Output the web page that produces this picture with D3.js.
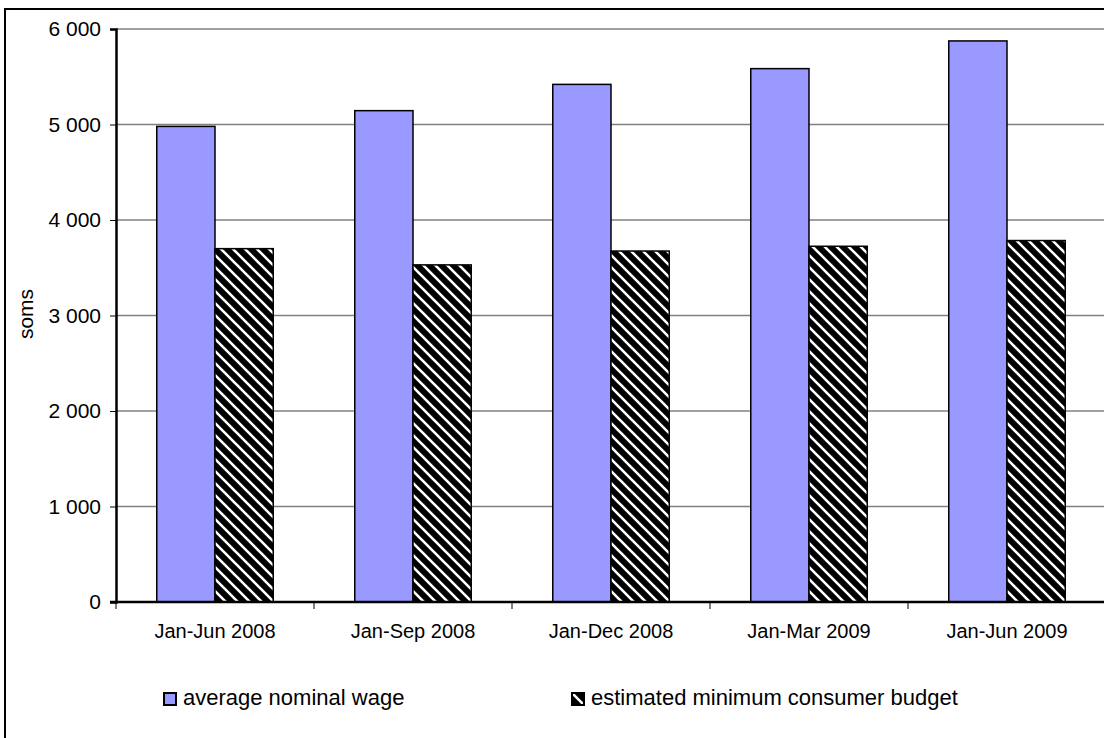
<!DOCTYPE html>
<html>
<head>
<meta charset="utf-8">
<script src="https://cdn.jsdelivr.net/npm/d3@7"></script>
<style>
  html, body { margin: 0; padding: 0; background: #fff; }
  svg { display: block; }
  text { font-family: "Liberation Sans", Arial, sans-serif; fill: #000; }
</style>
</head>
<body>
<svg id="chart" width="1104" height="738"></svg>
<script>
// Periods covered by the survey
const categories = ["Jan-Jun 2008", "Jan-Sep 2008", "Jan-Dec 2008", "Jan-Mar 2009", "Jan-Jun 2009"];
// Average nominal wage, soms
const wageValues = [4980, 5145, 5420, 5585, 5875];
// Estimated minimum consumer budget, soms
const budgetValues = [3700, 3530, 3675, 3725, 3785];
const seriesNames = ["average nominal wage", "estimated minimum consumer budget"];
const yTicks = [0, 1000, 2000, 3000, 4000, 5000, 6000];
const yLabel = "soms";

const svg = d3.select("#chart");
const plot = { left: 116, top: 29, right: 1106, bottom: 602 };

// Outer chart frame (runs past the right and bottom edges)
svg.append("rect")
  .attr("x", 5).attr("y", 9)
  .attr("width", 1130).attr("height", 760)
  .attr("fill", "none").attr("stroke", "#000").attr("stroke-width", 2);

// Diagonal hatch for the budget series
const defs = svg.append("defs");
const hw = 12;
const hatch = defs.append("pattern")
  .attr("id", "hatch")
  .attr("patternUnits", "userSpaceOnUse")
  .attr("width", hw).attr("height", hw);
hatch.append("rect").attr("width", hw).attr("height", hw).attr("fill", "#000");
hatch.append("path")
  .attr("d", `M-2,${hw - 2} l4,4 M0,0 l${hw},${hw} M${hw - 2},-2 l4,4`)
  .attr("stroke", "#fff").attr("stroke-width", 2.6);

const x0 = d3.scaleBand().domain(categories).range([plot.left, plot.right]).padding(0);
const x1 = d3.scaleBand().domain(seriesNames).range([0, x0.bandwidth()]).paddingInner(0).paddingOuter(0.7);
const y = d3.scaleLinear().domain([0, 6000]).range([plot.bottom, plot.top]);

const fmt = d => d3.format(",")(d).replace(/,/g, " ");

// Horizontal gridlines
svg.append("g")
  .selectAll("line")
  .data(yTicks.filter(d => d > 0))
  .join("line")
  .attr("x1", plot.left).attr("x2", plot.right)
  .attr("y1", d => y(d)).attr("y2", d => y(d))
  .attr("stroke", "#808080").attr("stroke-width", 1.6);

// Bars
const fills = ["#9999FF", "url(#hatch)"];
const rows = categories.map((c, i) => ({ c, vals: [wageValues[i], budgetValues[i]] }));
const groups = svg.append("g").selectAll("g")
  .data(rows).join("g")
  .attr("transform", d => `translate(${x0(d.c)},0)`);
groups.selectAll("rect")
  .data(d => d.vals.map((v, k) => ({ v, k })))
  .join("rect")
  .attr("x", d => x1(seriesNames[d.k]))
  .attr("y", d => y(d.v))
  .attr("width", x1.bandwidth())
  .attr("height", d => y(0) - y(d.v))
  .attr("fill", d => fills[d.k])
  .attr("stroke", "#000").attr("stroke-width", 1.5);

// Y axis
const yAxis = svg.append("g")
  .attr("transform", `translate(${plot.left},0)`)
  .call(d3.axisLeft(y).tickValues(yTicks).tickFormat(fmt).tickSize(6).tickPadding(9));
yAxis.select(".domain").attr("stroke", "#000").attr("stroke-width", 2.5);
yAxis.selectAll(".tick line").attr("stroke", "#000").attr("stroke-width", 1);
yAxis.selectAll(".tick text").attr("font-size", 21).attr("fill", "#000");

// X axis: labels centred on categories, ticks at category boundaries
const xAxis = svg.append("g")
  .attr("transform", `translate(0,${plot.bottom})`)
  .call(d3.axisBottom(x0).tickSize(0).tickPadding(22));
xAxis.select(".domain").remove();
xAxis.selectAll(".tick text").attr("font-size", 20).attr("fill", "#000");
const bounds = categories.map(c => x0(c)).concat([x0(categories[categories.length - 1]) + x0.bandwidth()]);
svg.append("g").selectAll("line")
  .data(bounds).join("line")
  .attr("x1", d => d).attr("x2", d => d)
  .attr("y1", plot.bottom).attr("y2", plot.bottom + 7)
  .attr("stroke", "#000").attr("stroke-width", 1);
svg.append("line")
  .attr("x1", plot.left - 6).attr("x2", plot.right)
  .attr("y1", plot.bottom).attr("y2", plot.bottom)
  .attr("stroke", "#000").attr("stroke-width", 2.5);

// Y axis title
svg.append("text")
  .attr("transform", `translate(33,314) rotate(-90)`)
  .attr("text-anchor", "middle")
  .attr("font-size", 21)
  .text(yLabel);

// Legend
const legendItems = [
  { x: 164, name: seriesNames[0], fill: fills[0] },
  { x: 572, name: seriesNames[1], fill: fills[1] }
];
const lg = svg.append("g").selectAll("g").data(legendItems).join("g")
  .attr("transform", d => `translate(${d.x},693)`);
lg.append("rect")
  .attr("width", 12).attr("height", 12)
  .attr("fill", d => d.fill)
  .attr("stroke", "#000").attr("stroke-width", 2);
lg.append("text")
  .attr("x", 19).attr("y", 12)
  .attr("font-size", 22)
  .text(d => d.name);
</script>
</body>
</html>
